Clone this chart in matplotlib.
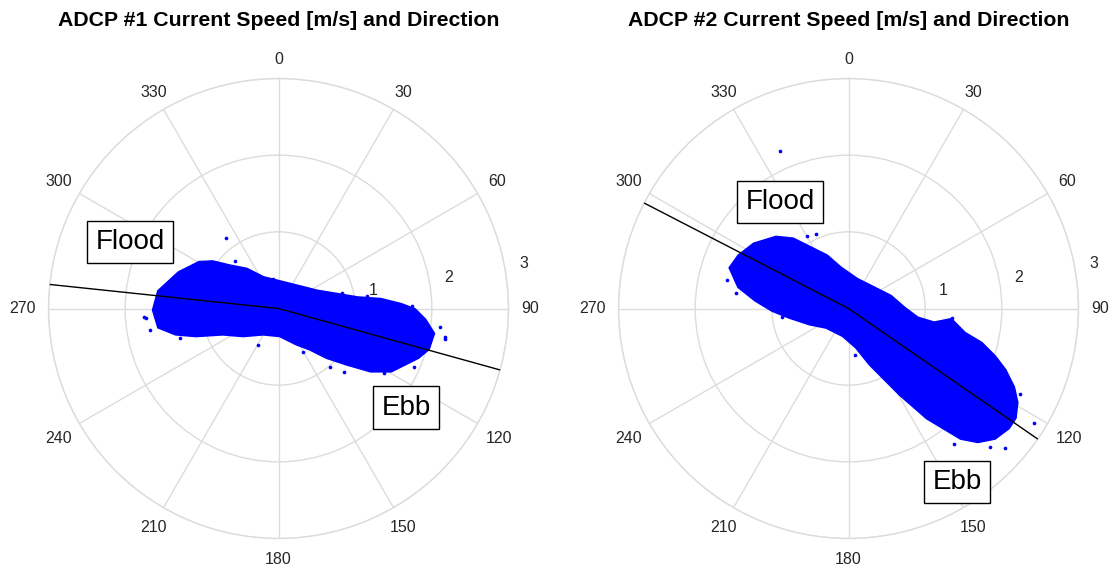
import numpy as np
import matplotlib.pyplot as plt

plt.rcParams['font.family'] = ['Liberation Sans', 'DejaVu Sans']

# Outline of each velocity cloud as east / north components [m/s]
adcp1_east = [-1.625, -1.559, -1.296, -1.033, -0.858, -0.638, -0.418, -0.200, 0.063, 0.326,
              0.503, 0.766, 1.029, 1.336, 1.599, 1.774, 1.905, 2.016, 1.950, 1.818,
              1.643, 1.467, 1.204, 0.897, 0.634, 0.414, 0.239, 0.020, -0.200, -0.463,
              -0.726, -1.076, -1.339, -1.559]
adcp1_north = [-0.020, 0.221, 0.463, 0.595, 0.603, 0.550, 0.507, 0.397, 0.332, 0.266,
               0.221, 0.178, 0.134, 0.112, 0.046, -0.020, -0.151, -0.327, -0.524, -0.634,
               -0.721, -0.809, -0.809, -0.721, -0.634, -0.524, -0.458, -0.349, -0.327, -0.349,
               -0.327, -0.349, -0.327, -0.239]

adcp2_east = [-1.537, -1.428, -1.230, -0.945, -0.726, -0.507, -0.287, -0.112, 0.108, 0.326,
              0.546, 0.721, 0.897, 1.116, 1.336, 1.511, 1.730, 1.905, 2.037, 2.147,
              2.191, 2.168, 2.082, 1.905, 1.687, 1.467, 1.247, 1.029, 0.853, 0.678,
              0.458, 0.283, 0.108, -0.068, -0.287, -0.507, -0.770, -0.989, -1.208, -1.428]
adcp2_north = [0.529, 0.682, 0.836, 0.923, 0.901, 0.792, 0.682, 0.529, 0.375, 0.266,
               0.155, 0.003, -0.129, -0.195, -0.151, -0.327, -0.458, -0.634, -0.809, -1.029,
               -1.226, -1.424, -1.555, -1.687, -1.730, -1.687, -1.555, -1.424, -1.270, -1.118,
               -0.897, -0.721, -0.503, -0.349, -0.239, -0.195, -0.108, -0.020, 0.112, 0.287]

# scattered samples around the main clouds
adcp1_out_east = [-0.682, -0.572, -1.757, 2.168, 0.853, -0.266, -0.895, -0.068, 0.826, 1.153,
                  1.741, 2.111, 2.176, 1.762, 1.370, 0.673, 0.324, -1.288, -1.680, -1.723]
adcp1_out_north = [0.923, 0.616, -0.108, -0.393, -0.831, -0.480, 0.612, 0.382, 0.207, 0.163,
                   0.033, -0.238, -0.369, -0.760, -0.847, -0.760, -0.565, -0.390, -0.281, -0.128]
adcp2_out_east = [-0.888, -1.580, 2.425, -0.418, -0.547, -1.461, -0.873, 0.892, 1.349, 2.242,
                  1.370, 1.850, 0.673, 0.085, 2.046]
adcp2_out_north = [2.059, 0.375, -1.497, 0.967, 0.948, 0.199, -0.107, -0.150, -0.128, -1.109,
                   -1.771, -1.806, -0.978, -0.608, -1.824]

# principal flood / ebb directions [deg] and line length [m/s]
flood_dir = [276.0, 297.3]
ebb_dir = [105.5, 124.6]
axis_len = 3.0

# label positions (direction deg, radius m/s)
flood_lab = [(294.2, 2.12), (327.4, 1.65)]
ebb_lab = [(127.8, 2.11), (148.0, 2.67)]

titles = ['ADCP #1 Current Speed [m/s] and Direction',
          'ADCP #2 Current Speed [m/s] and Direction']
theta_ticks = np.arange(0, 360, 30)
r_ticks = [1, 2, 3]

clouds = [(adcp1_east, adcp1_north, adcp1_out_east, adcp1_out_north),
          (adcp2_east, adcp2_north, adcp2_out_east, adcp2_out_north)]

GRID = '#dcdcdc'
TICK = '#262626'
TICK_FS = 11.5
PX = 72 / 100  # points per pixel at dpi 100


def label_offset(t, lab, gap=12.75):
    """Offset (points) putting the label's box edge `gap` px outside the circle."""
    w = len(lab) * 0.556 * TICK_FS / PX
    h = 0.72 * TICK_FS / PX
    s, c = np.sin(np.deg2rad(t)), np.cos(np.deg2rad(t))
    reach = min(w / 2 / abs(s) if abs(s) > 1e-9 else np.inf,
                h / 2 / abs(c) if abs(c) > 1e-9 else np.inf)
    d = gap + reach
    dx, dy = d * s, d * c
    if c < -1e-9:
        dy -= 3  # lower labels sit a little further out
    return dx * PX, dy * PX


fig = plt.figure(figsize=(11.12, 5.74), dpi=100)
lefts = [48.5 / 1112, 618.5 / 1112]
for i, left in enumerate(lefts):
    ax = fig.add_axes([left, 35.5 / 574, 460 / 1112, 460 / 574], projection='polar')
    ax.set_theta_zero_location('N')
    ax.set_theta_direction(-1)
    ax.set_rlim(0, 3)
    ax.set_rticks(r_ticks)
    ax.set_yticklabels([])
    ax.set_thetagrids(theta_ticks, labels=[''] * len(theta_ticks))
    ax.grid(True, color=GRID, lw=1.0)
    ax.spines['polar'].set_color(GRID)
    ax.spines['polar'].set_linewidth(1.0)
    ax.set_axisbelow(True)

    for t in theta_ticks:
        ax.annotate(str(t), xy=(np.deg2rad(t), 3), xytext=label_offset(t, str(t)),
                    textcoords='offset points', ha='center', va='center',
                    fontsize=TICK_FS, color=TICK, annotation_clip=False)

    # radial tick labels
    for r in r_ticks:
        ax.annotate(str(r), xy=(np.deg2rad(80), r), xytext=(13.5, 3.5),
                    textcoords='offset points', ha='center', va='center',
                    fontsize=TICK_FS, color=TICK)

    e, n, oe, on = [np.asarray(a, float) for a in clouds[i]]
    speed = np.hypot(e, n)
    dirn = np.arctan2(e, n)
    ax.fill(dirn, speed, color='#0000ff', lw=3.0, zorder=2)
    ax.scatter(np.arctan2(oe, on), np.hypot(oe, on), s=7, color='#0000ff',
               lw=0, zorder=2)

    ax.plot(np.deg2rad([flood_dir[i], 0, ebb_dir[i]]), [axis_len, 0, axis_len],
            color='black', lw=1.0, zorder=3)

    box = dict(boxstyle='square,pad=0.3', fc='white', ec='black', lw=1.0)
    th, r = flood_lab[i]
    ax.text(np.deg2rad(th), r, 'Flood', ha='center', va='center', fontsize=20,
            color='black', bbox=box, zorder=5)
    th, r = ebb_lab[i]
    ax.text(np.deg2rad(th), r, 'Ebb', ha='center', va='center', fontsize=20,
            color='black', bbox=box, zorder=5)

    ax.text(0.5, 1 + (78.5 - 20) / 460, titles[i], transform=ax.transAxes,
            ha='center', va='center', fontsize=15.3, fontweight='bold', color='black')

fig.savefig('out.png', dpi=100)
